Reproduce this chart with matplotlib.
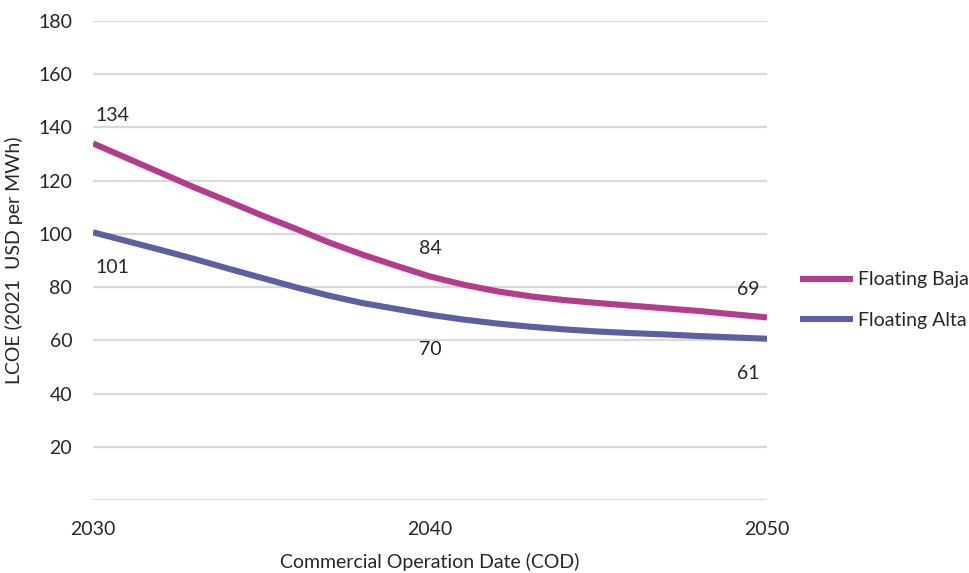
import matplotlib
matplotlib.use("Agg")
import matplotlib.pyplot as plt

years = list(range(2030, 2051))
baja = [134, 128.5, 123, 117.5, 112.3, 107, 102, 96.8, 92.2, 88, 84,
        80.9, 78.4, 76.5, 75.1, 74, 73, 72, 71, 69.8, 68.6]
alta = [100.6, 97.3, 94, 90.6, 87, 83.5, 80, 76.8, 74, 71.8, 69.6,
        67.8, 66.3, 65.1, 64.1, 63.3, 62.7, 62.2, 61.6, 61.1, 60.6]
series_names = ["Floating Baja", "Floating Alta"]
x_ticks = [2030, 2040, 2050]
y_ticks = [20, 40, 60, 80, 100, 120, 140, 160, 180]
label_years = [2030, 2040, 2050]

colors = ["#B43C8E", "#5E5FA3"]
txt = "#262626"
plt.rcParams['font.family'] = ['Lato', 'DejaVu Sans']
fs = 14

fig = plt.figure(figsize=(9.69, 5.73), dpi=100)
ax = fig.add_axes([93/969, 1-500/573, (767-93)/969, (500-21)/573])

for y in [0] + y_ticks:
    ax.axhline(y, color="#d9d9d9", lw=1.6, zorder=0)

lines = []
for vals, name, c in zip([baja, alta], series_names, colors):
    ln, = ax.plot(years, vals, color=c, lw=4.4, solid_capstyle='butt', label=name, zorder=3)
    lines.append(ln)

# data labels
for vals, above in [(baja, True), (alta, False)]:
    for yr in label_years:
        v = vals[years.index(yr)]
        dy = 28 if above else -35
        if yr == years[0]:
            ha, dx = 'left', 2
        elif yr == years[-1]:
            ha, dx = 'right', -8
        else:
            ha, dx = 'center', 0
        ax.annotate(f"{v:.0f}", (yr, v), xytext=(dx, dy), textcoords='offset pixels',
                    ha=ha, va='center', fontsize=fs, color=txt)

ax.set_xlim(2030, 2050)
ax.set_ylim(0, 180)
ax.set_xticks(x_ticks)
ax.set_xticklabels([str(t) for t in x_ticks])
ax.set_yticks(y_ticks)
ax.tick_params(axis='both', length=0, labelsize=fs, labelcolor=txt)
ax.tick_params(axis='y', pad=15)
ax.tick_params(axis='x', pad=15)
for s in ax.spines.values():
    s.set_visible(False)

ax.set_xlabel("Commercial Operation Date (COD)", fontsize=fs, color=txt, labelpad=11)
ax.set_ylabel("LCOE (2021  USD per MWh)", fontsize=fs, color=txt, labelpad=11)

fig.legend(handles=lines, labels=series_names, loc='center left',
           bbox_to_anchor=(782/969, 1-300/573), frameon=False, fontsize=fs,
           handlelength=2.75, handletextpad=0.25, labelspacing=1.2,
           labelcolor=txt)

fig.savefig("out.png", dpi=100, facecolor='white')
